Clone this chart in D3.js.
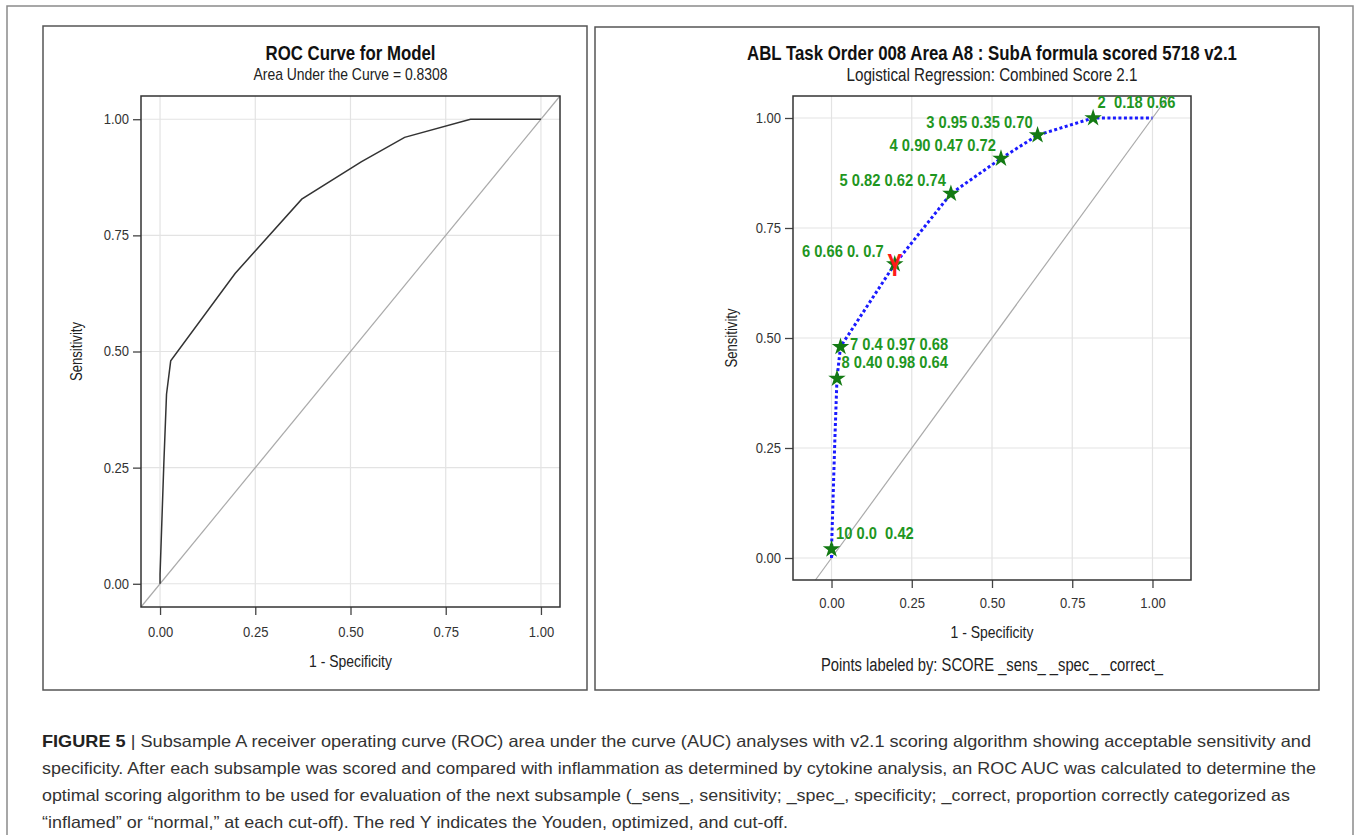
<!DOCTYPE html>
<html>
<head>
<meta charset="utf-8">
<script src="https://cdn.jsdelivr.net/npm/d3@7"></script>
<style>
  body { margin: 0; background: #fff; }
  svg text { font-family: 'Liberation Sans', Arial, sans-serif; }
</style>
</head>
<body>
<svg id="chart" width="1357" height="835"></svg>
<script>
// ROC points, ordered from the strictest cut-off to the loosest
const fpr = [0, 0, 0.01, 0.017, 0.028, 0.197, 0.372, 0.528, 0.642, 0.815, 1]
const sens = [0, 0.02, 0.26, 0.408, 0.48, 0.668, 0.828, 0.908, 0.961, 1, 1]

// point labels: SCORE _sens_ _spec_ _correct_ (as printed, blanks kept)
const scoreLabels = ['', '10', '', '8', '7', '6', '5', '4', '3', '2', '']
const sensLabels = ['', '0.0', '', '0.40', '0.4', '0.66', '0.82', '0.90', '0.95', '', '']
const specLabels = ['', '', '', '0.98', '0.97', '0.', '0.62', '0.47', '0.35', '0.18', '']
const correctLabels = ['', '0.42', '', '0.64', '0.68', '0.7', '0.74', '0.72', '0.70', '0.66', '']

const tickValues = [0, 0.25, 0.5, 0.75, 1]
const aucText = 'Area Under the Curve = 0.8308'
const youdenScore = '6'

const captionLines = [
  'Subsample A receiver operating curve (ROC) area under the curve (AUC) analyses with v2.1 scoring algorithm showing acceptable sensitivity and',
  'specificity. After each subsample was scored and compared with inflammation as determined by cytokine analysis, an ROC AUC was calculated to determine the',
  'optimal scoring algorithm to be used for evaluation of the next subsample (_sens_, sensitivity; _spec_, specificity; _correct, proportion correctly categorized as',
  '\u201cinflamed\u201d or \u201cnormal,\u201d at each cut-off). The red Y indicates the Youden, optimized, and cut-off.'
]

const rocData = fpr.map((x, i) => ({
  x: x,
  y: sens[i],
  score: scoreLabels[i],
  label: [scoreLabels[i], sensLabels[i], specLabels[i], correctLabels[i]].join(' ')
}))

// where each label sits relative to its star
const placement = { 10: 'topright', 8: 'topright', 7: 'right', 2: 'topright' }

// no Arial Narrow here, so squeeze Liberation Sans to roughly its width
function narrow(sel, k = 0.82) {
  sel.each(function () {
    const len = this.getComputedTextLength()
    d3.select(this).attr('textLength', len * k).attr('lengthAdjust', 'spacingAndGlyphs')
  })
  return sel
}

const svg = d3.select('#chart')

// outer figure frame
svg.append('rect')
  .attr('x', 7).attr('y', 6).attr('width', 1346).attr('height', 900)
  .attr('fill', 'none').attr('stroke', '#8a8a8a').attr('stroke-width', 1.5)

function drawPanel({ frame, plot, xDomain, yDomain, title, subtitle, xLabelY, yLabelX, tickLabelY }) {
  const g = svg.append('g')

  g.append('rect')
    .attr('x', frame.x).attr('y', frame.y).attr('width', frame.w).attr('height', frame.h)
    .attr('fill', '#fff').attr('stroke', '#555').attr('stroke-width', 1.5)

  const x = d3.scaleLinear().domain(xDomain).range([plot.left, plot.right])
  const y = d3.scaleLinear().domain(yDomain).range([plot.bottom, plot.top])

  // grid
  g.append('g')
    .selectAll('line')
    .data(tickValues)
    .join('line')
    .attr('x1', (d) => x(d)).attr('x2', (d) => x(d))
    .attr('y1', plot.top).attr('y2', plot.bottom)
    .attr('stroke', '#e3e3e3').attr('stroke-width', 1.2)
  g.append('g')
    .selectAll('line')
    .data(tickValues)
    .join('line')
    .attr('y1', (d) => y(d)).attr('y2', (d) => y(d))
    .attr('x1', plot.left).attr('x2', plot.right)
    .attr('stroke', '#e3e3e3').attr('stroke-width', 1.2)

  // chance line
  g.append('line')
    .attr('x1', x(yDomain[0])).attr('y1', y(yDomain[0]))
    .attr('x2', x(yDomain[1])).attr('y2', y(yDomain[1]))
    .attr('stroke', '#aaa').attr('stroke-width', 1.2)

  // axes
  const xAxis = g.append('g')
    .attr('transform', `translate(0, ${plot.bottom})`)
    .call(d3.axisBottom(x).tickValues(tickValues).tickFormat(d3.format('.2f')).tickSize(8).tickSizeOuter(0))
  const yAxis = g.append('g')
    .attr('transform', `translate(${plot.left}, 0)`)
    .call(d3.axisLeft(y).tickValues(tickValues).tickFormat(d3.format('.2f')).tickSize(8).tickSizeOuter(0))
  ;[xAxis, yAxis].forEach((a) => {
    a.select('.domain').remove()
    a.selectAll('line').attr('stroke', '#444').attr('stroke-width', 1.3)
    a.selectAll('text').attr('fill', '#333').style('font-size', '14px')
    narrow(a.selectAll('text'), 0.93)
  })
  xAxis.selectAll('text').attr('dy', null).attr('y', tickLabelY - plot.bottom)
  yAxis.selectAll('text').attr('x', -12)

  // plot frame
  g.append('rect')
    .attr('x', plot.left).attr('y', plot.top)
    .attr('width', plot.right - plot.left).attr('height', plot.bottom - plot.top)
    .attr('fill', 'none').attr('stroke', '#333').attr('stroke-width', 1.5)

  const cx = (plot.left + plot.right) / 2

  g.append('text')
    .attr('x', cx).attr('y', title.y)
    .attr('text-anchor', 'middle').attr('font-weight', 'bold')
    .style('font-size', '20.5px').attr('fill', '#111')
    .text(title.text)
    .call(narrow)
  g.append('text')
    .attr('x', cx).attr('y', subtitle.y)
    .attr('text-anchor', 'middle').attr('font-weight', subtitle.weight)
    .style('font-size', subtitle.size).attr('fill', '#222')
    .text(subtitle.text)
    .call(narrow)

  g.append('text')
    .attr('x', cx).attr('y', xLabelY)
    .attr('text-anchor', 'middle').style('font-size', '17px').attr('fill', '#222')
    .text('1 - Specificity')
    .call(narrow)
  g.append('text')
    .attr('transform', `translate(${yLabelX}, ${(plot.top + plot.bottom) / 2}) rotate(-90)`)
    .attr('text-anchor', 'middle').style('font-size', '16px').attr('fill', '#222')
    .text('Sensitivity')
    .call(narrow)

  return { g, x, y }
}

// ---- left panel
const left = drawPanel({
  frame: { x: 43, y: 26, w: 544, h: 664 },
  plot: { left: 141, right: 560, top: 96, bottom: 607 },
  xDomain: [-0.05, 1.05],
  yDomain: [-0.05, 1.05],
  title: { text: 'ROC Curve for Model', y: 60 },
  subtitle: { text: aucText, y: 80, size: '17px', weight: 'normal' },
  xLabelY: 667,
  yLabelX: 82,
  tickLabelY: 637
})

left.g.append('path')
  .datum(rocData)
  .attr('fill', 'none').attr('stroke', '#333').attr('stroke-width', 1.5)
  .attr('d', d3.line().x((d) => left.x(d.x)).y((d) => left.y(d.y)))

// ---- right panel
const right = drawPanel({
  frame: { x: 595, y: 27, w: 724, h: 663 },
  plot: { left: 793, right: 1191, top: 96, bottom: 580 },
  xDomain: [-0.12, 1.12],
  yDomain: [-0.05, 1.05],
  title: { text: 'ABL Task Order 008 Area A8 : SubA formula scored 5718 v2.1', y: 60 },
  subtitle: { text: 'Logistical Regression: Combined Score 2.1', y: 81, size: '18.5px', weight: 'normal' },
  xLabelY: 638,
  yLabelX: 737,
  tickLabelY: 608
})

right.g.append('text')
  .attr('x', 992).attr('y', 671)
  .attr('text-anchor', 'middle').style('font-size', '18px').attr('fill', '#222')
  .text('Points labeled by: SCORE _sens_ _spec_ _correct_')
  .call(narrow)

right.g.append('path')
  .datum(rocData)
  .attr('fill', 'none').attr('stroke', '#1a1aff').attr('stroke-width', 3)
  .attr('stroke-dasharray', '3,2.5')
  .attr('d', d3.line().x((d) => right.x(d.x)).y((d) => right.y(d.y)))

const labeled = rocData.filter((d) => d.score !== '')

right.g.append('g')
  .selectAll('path')
  .data(labeled)
  .join('path')
  .attr('transform', (d) => `translate(${right.x(d.x)}, ${right.y(d.y)})`)
  .attr('d', d3.symbol(d3.symbolStar, 95))
  .attr('fill', '#137a13')

right.g.append('g')
  .selectAll('text')
  .data(labeled)
  .join('text')
  .style('white-space', 'pre')
  .style('font-size', '16px')
  .attr('font-weight', 'bold')
  .attr('fill', '#1f961f')
  .attr('text-anchor', (d) => (placement[d.score] ? 'start' : 'end'))
  .attr('x', (d) => {
    const p = placement[d.score]
    if (p === 'right') return right.x(d.x) + 9.5
    if (p === 'topright') return right.x(d.x) + 4.5
    return right.x(d.x) - (d.score === youdenScore ? 11 : 5)
  })
  .attr('y', (d) => {
    const p = placement[d.score]
    if (p === 'right') return right.y(d.y) + 3
    if (p === 'topright') return right.y(d.y) - 10.5
    return right.y(d.y) - 7.5
  })
  .text((d) => d.label)
  .call(narrow, 0.92)

// Youden cut-off marker
right.g.append('g')
  .selectAll('text')
  .data(labeled.filter((d) => d.score === youdenScore))
  .join('text')
  .attr('x', (d) => right.x(d.x))
  .attr('y', (d) => right.y(d.y) + 12)
  .attr('text-anchor', 'middle')
  .attr('font-weight', 'bold')
  .style('font-size', '32px')
  .attr('fill', '#ff1a1a')
  .text('Y')
  .call(narrow, 0.7)

// ---- caption
const caption = svg.append('g')
const captionWidths = [1269, 1274, 1248, 746]
captionLines.forEach((line, i) => {
  const t = caption.append('text')
    .attr('x', 42).attr('y', 747 + i * 27)
    .style('font-size', '16.5px').attr('fill', '#333')
    .attr('textLength', captionWidths[i]).attr('lengthAdjust', 'spacingAndGlyphs')
  if (i === 0) {
    t.append('tspan').attr('font-weight', 'bold').attr('fill', '#222').text('FIGURE 5 ')
    t.append('tspan').text('| ')
  }
  t.append('tspan').text(line)
})
</script>
</body>
</html>
